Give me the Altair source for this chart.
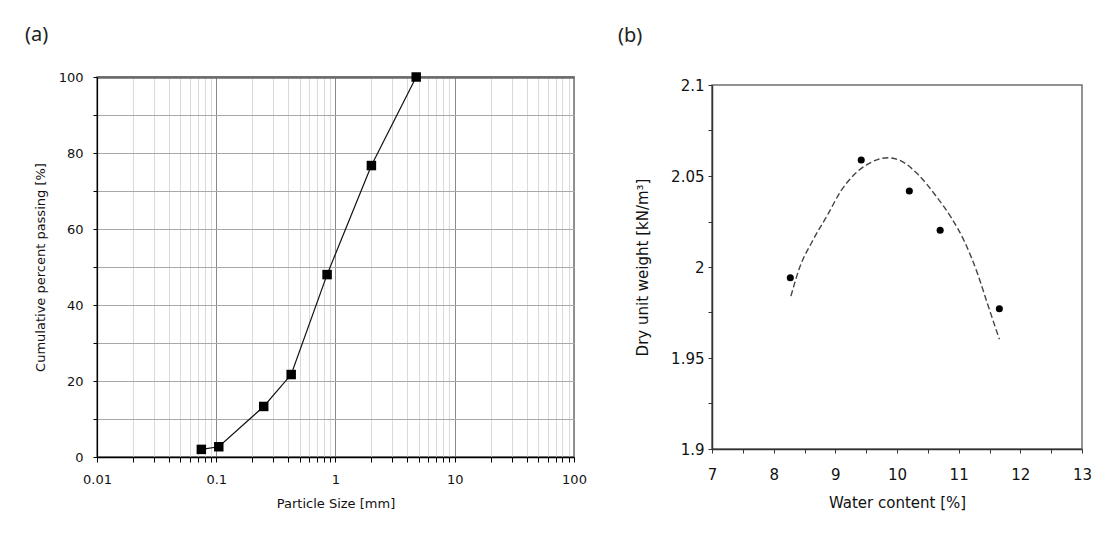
import altair as alt
import pandas as pd

# ---------------- (a) particle size distribution ----------------
sizes_mm = [0.075, 0.105, 0.25, 0.425, 0.85, 2.0, 4.75]
passing_pct = [2.0, 2.7, 13.3, 21.7, 48.0, 76.7, 100.0]

# ---------------- (b) compaction curve ----------------
water_pct = [8.27, 9.42, 10.20, 10.70, 11.66]
dry_unit_weight = [1.9941, 2.0588, 2.0418, 2.0202, 1.9771]

# dashed fitted curve
curve_water = [8.28, 8.42, 8.63, 8.88, 9.09, 9.31, 9.52, 9.85, 10.07, 10.34,
               10.61, 10.88, 11.09, 11.31, 11.47, 11.66]
curve_weight = [1.984, 1.9996, 2.0143, 2.029, 2.0418, 2.0509, 2.0564, 2.0600,
                2.0582, 2.0509, 2.040, 2.0271, 2.0143, 1.996, 1.9795, 1.9603]

# tick labels / tick positions
x_a_ticks = [0.01, 0.02, 0.03, 0.04, 0.05, 0.06, 0.07, 0.08, 0.09,
             0.1, 0.2, 0.3, 0.4, 0.5, 0.6, 0.7, 0.8, 0.9,
             1, 2, 3, 4, 5, 6, 7, 8, 9,
             10, 20, 30, 40, 50, 60, 70, 80, 90, 100]
y_a_ticks = [0, 10, 20, 30, 40, 50, 60, 70, 80, 90, 100]
x_b_ticks = [7, 7.5, 8, 8.5, 9, 9.5, 10, 10.5, 11, 11.5, 12, 12.5, 13]
y_b_ticks = [1.9, 1.925, 1.95, 1.975, 2.0, 2.025, 2.05, 2.075, 2.1]

df_a = pd.DataFrame({"size": sizes_mm, "pass": passing_pct})
df_b = pd.DataFrame({"w": water_pct, "g": dry_unit_weight})
df_c = pd.DataFrame({"w": curve_water, "g": curve_weight})

FONT = "DejaVu Sans"
decade = "abs(log(datum.value)/LN10 - round(log(datum.value)/LN10)) < 0.001"

xa = alt.X(
    "size:Q",
    scale=alt.Scale(type="log", domain=[0.01, 100]),
    axis=alt.Axis(
        title="Particle Size [mm]", values=x_a_ticks, format="~g",
        labelExpr=f"{decade} ? datum.label : ''",
        grid=True,
        gridColor={"condition": {"test": decade, "value": "#8a8a8a"}, "value": "#dadada"},
        gridWidth=1,
        domainColor="#000", domainWidth=1.5,
        tickColor="#000", tickSize=5, labelPadding=11,
        labelFlush=False, labelOverlap=False,
        labelFont=FONT, labelFontSize=13, labelColor="#111",
        titleFont=FONT, titleFontSize=13, titleFontWeight="normal", titleColor="#111",
        titlePadding=11,
    ),
)
ya = alt.Y(
    "pass:Q",
    scale=alt.Scale(domain=[0, 100]),
    axis=alt.Axis(
        title="Cumulative percent passing [%]", values=y_a_ticks,
        labelExpr="datum.value % 20 == 0 ? datum.label : ''",
        grid=True,
        gridColor={"condition": {"test": "datum.value == 100", "value": "#6a6a6a"}, "value": "#a8a8a8"},
        gridWidth={"condition": {"test": "datum.value == 100", "value": 2.5}, "value": 1},
        domainColor="#000", domainWidth=1.2,
        tickColor="#000", tickSize=4, labelPadding=10,
        labelFlush=False, labelOverlap=False,
        labelFont=FONT, labelFontSize=13, labelColor="#111",
        titleFont=FONT, titleFontSize=13, titleFontWeight="normal", titleColor="#111",
        titlePadding=11,
    ),
)

base_a = alt.Chart(df_a).encode(x=xa, y=ya)
chart_a = alt.layer(
    base_a.mark_line(color="#111", strokeWidth=1.2),
    base_a.mark_square(color="#000", size=90, opacity=1),
).properties(
    width=477, height=380,
    title=alt.TitleParams("(a)", anchor="start", frame="group", dx=-72, offset=10,
                          font="Noto Sans", fontSize=20, fontWeight="normal",
                          color="#222", baseline="alphabetic"),
)

xb = alt.X(
    "w:Q",
    scale=alt.Scale(domain=[7, 13], nice=False),
    axis=alt.Axis(
        title="Water content [%]", values=x_b_ticks, format="~g",
        labelExpr="datum.value % 1 == 0 ? datum.label : ''",
        grid=False, domainColor="#333", domainWidth=1.5,
        tickColor="#333", tickSize=4, labelPadding=14,
        labelFlush=False, labelOverlap=False,
        labelFont=FONT, labelFontSize=15, labelColor="#111",
        titleFont=FONT, titleFontSize=15, titleFontWeight="normal", titleColor="#111",
        titlePadding=13,
    ),
)
yb = alt.Y(
    "g:Q",
    scale=alt.Scale(domain=[1.9, 2.1], nice=False, zero=False),
    axis=alt.Axis(
        title="Dry unit weight [kN/m³]", values=y_b_ticks, format="~g",
        labelExpr="abs(datum.value*20 - round(datum.value*20)) < 0.001 ? datum.label : ''",
        grid=False, domainColor="#333", domainWidth=1.5,
        tickColor="#333", tickSize=4, labelPadding=4,
        labelFlush=False, labelOverlap=False,
        labelFont=FONT, labelFontSize=15, labelColor="#111",
        titleFont=FONT, titleFontSize=15, titleFontWeight="normal", titleColor="#111",
        titlePadding=20,
    ),
)

chart_b = alt.layer(
    alt.Chart(df_c).mark_line(color="#444", strokeDash=[6, 3], strokeWidth=1.4,
                              interpolate="monotone").encode(x=xb, y=yb),
    alt.Chart(df_b).mark_circle(color="#000", size=50, opacity=1).encode(x=xb, y=yb),
).properties(
    width=370, height=364,
    title=alt.TitleParams("(b)", anchor="start", frame="group", dx=-94, offset=16,
                          font="Noto Sans", fontSize=20, fontWeight="normal",
                          color="#222", baseline="alphabetic"),
)

chart = alt.hconcat(
    chart_a, chart_b, spacing=138, bounds="flush", center=True,
).properties(
    padding={"left": 24, "top": 24, "right": 5, "bottom": 5},
    background="white",
).configure_view(
    stroke="#707070", strokeWidth=1.5,
)

chart.save("out.html", embed_options={"renderer": "svg", "actions": False})
